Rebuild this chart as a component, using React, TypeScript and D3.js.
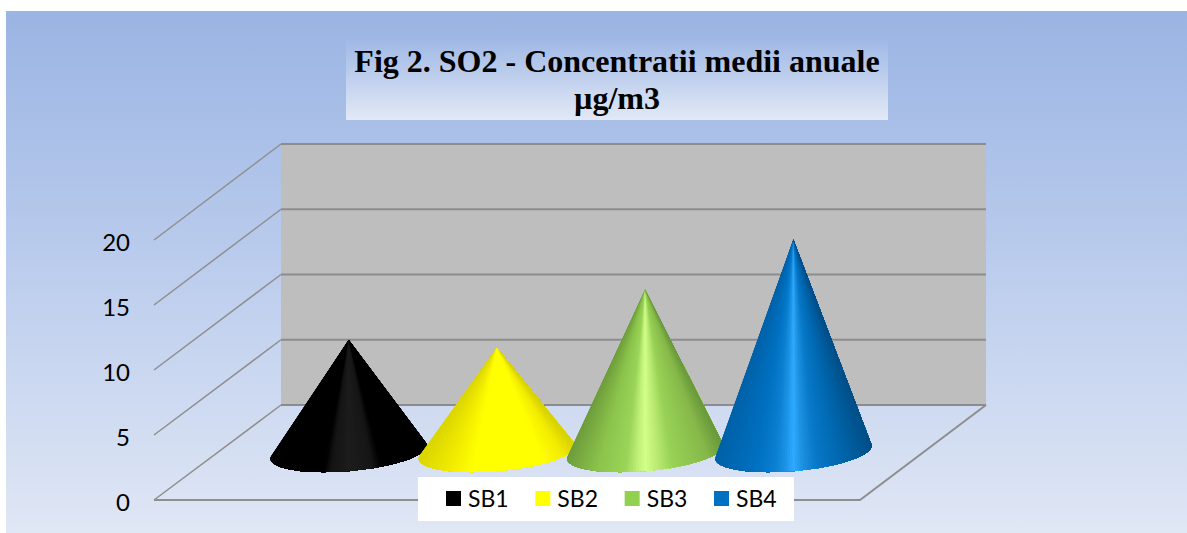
import React from 'react'
import * as d3 from 'd3'

const categories = ['SB1', 'SB2', 'SB3', 'SB4']
const values = [8.6, 8, 12.45, 16.3]
const yTicks = [0, 5, 10, 15, 20]
const legendColors = ['#000000', '#ffff00', '#92d050', '#0070c0']
const titleLines = ['Fig 2. SO2 - Concentratii medii anuale', 'µg/m3']

// shading across each cone, from left rim (-1) to right rim (1)
const shadeStops = [
	[-1, -0.32, -0.22, 0, 0.3, 0.42, 1],
	[-1, -0.6, -0.3, 0, 0.6, 0.85, 1],
	[-1, -0.6, -0.25, -0.1, 0, 0.15, 0.35, 0.8, 1],
	[-1, -0.5, -0.25, -0.1, 0, 0.12, 0.3, 0.6, 1],
]
const shadeColors = [
	['#000000', '#000000', '#141414', '#1c1c1c', '#161616', '#000000', '#000000'],
	['#dcd600', '#f2ec00', '#ffff00', '#ffff00', '#ffff00', '#f2ec00', '#d8d200'],
	['#6f9e3c', '#8cc44c', '#9ad458', '#c0f078', '#d2ff8a', '#bcec74', '#98d256', '#86b84a', '#6a9a3c'],
	['#0062a8', '#0070c0', '#0a7ed0', '#1c94e6', '#2eaaff', '#1c90e0', '#0878c8', '#0068b0', '#004f88'],
]

const width = 1187
const height = 533
const wallLeft = 281
const wallRight = 986
const floorLeft = 154
const floorRight = 860

const yBack = d3.scaleLinear().domain([0, 20]).range([405, 144])
const yFront = d3.scaleLinear().domain([0, 20]).range([500, 240])
const x = d3.scaleBand().domain(categories).range([274.5, 867.5])
const legendX = d3.scalePoint().domain(categories).range([446, 714])

const baseY = 452
const rx = 78.5
const ry = 19
const tilt = (-5 * Math.PI) / 180
const coneTop = d3.scaleLinear().domain([0, 20]).range([baseY, baseY - 261])

const line = d3.line()

const Cone = ({ name, value, i }) => {
	const cx = x(name) + x.bandwidth() / 2
	const apex: [number, number] = [cx, coneTop(value)]
	const rim = d3.range(0, 360, 2).map((deg) => {
		const a = (deg * Math.PI) / 180
		const ex = rx * Math.cos(a)
		const ey = ry * Math.sin(a)
		return [cx + ex * Math.cos(tilt) - ey * Math.sin(tilt), baseY + ex * Math.sin(tilt) + ey * Math.cos(tilt)] as [number, number]
	})
	const hull = d3.polygonHull([apex, ...rim])
	const start = hull.findIndex((p) => p[0] === apex[0] && p[1] === apex[1])
	let outline = [...hull.slice(start + 1), ...hull.slice(0, start)]
	// paint from the left rim to the right so the wedges leave no seams
	if (outline[0][0] > outline[outline.length - 1][0]) outline = outline.reverse()
	const color = d3.scaleLinear<string>().domain(shadeStops[i]).range(shadeColors[i]).clamp(true)
	const pushOut = (p: [number, number]): [number, number] => [apex[0] + (p[0] - apex[0]) * 1.08, apex[1] + (p[1] - apex[1]) * 1.08]

	return (
		<g>
			<clipPath id={`cone-${i}`}>
				<path d={line(hull) + 'Z'} />
			</clipPath>
			<g clipPath={`url(#cone-${i})`}>
				{outline.slice(1).map((p, k) => (
					<path
						key={k}
						d={line([apex, ...outline.slice(k).map(pushOut)]) + 'Z'}
						fill={color(((p[0] + outline[k][0]) / 2 - cx) / rx)}
					/>
				))}
			</g>
		</g>
	)
}

export default function App() {
	return (
		<svg width={width} height={height} style={{ position: 'absolute', left: 0, top: 0, background: '#fff' }}>
			<defs>
				<linearGradient id="frame" x1="0" y1="0" x2="0" y2="1">
					<stop offset="0" stopColor="#9ab4e3" />
					<stop offset="0.5" stopColor="#bccded" />
					<stop offset="1" stopColor="#e0e7f5" />
				</linearGradient>
				<linearGradient id="titleBox" x1="0" y1="0" x2="0" y2="1">
					<stop offset="0" stopColor="#9fb8e5" />
					<stop offset="1" stopColor="#e2e9f6" />
				</linearGradient>
			</defs>

			<rect x={6} y={11} width={width - 6} height={height - 11} fill="url(#frame)" />

			<rect x={wallLeft} y={yBack(20)} width={wallRight - wallLeft} height={yBack(0) - yBack(20)} fill="#bebebe" />

			{yTicks.map((t) => (
				<g key={t}>
					<line x1={wallLeft} x2={wallRight} y1={yBack(t)} y2={yBack(t)} stroke="#8c8c8c" strokeWidth={2} />
					<line x1={floorLeft} x2={wallLeft} y1={yFront(t)} y2={yBack(t)} stroke="#8e8e8e" strokeWidth={1.5} />
					<text x={130} y={yFront(t) + 11} textAnchor="end" fontFamily="Lato" fontSize={24} fill="#000">{t}</text>
				</g>
			))}
			<path d={line([[floorLeft, yFront(0)], [floorRight, yFront(0)], [wallRight, yBack(0)]])} fill="none" stroke="#8e8e8e" strokeWidth={2} />

			{categories.map((c, i) => <Cone key={c} name={c} value={values[i]} i={i} />)}

			<rect x={346} y={39} width={542} height={81} fill="url(#titleBox)" />
			{titleLines.map((t, i) => (
				<text key={t} x={617} y={72 + i * 37} textAnchor="middle" fontFamily="Liberation Serif" fontWeight="bold" fontSize={32} fill="#000">{t}</text>
			))}

			<rect x={418} y={477} width={376} height={44} fill="#fff" />
			{categories.map((c, i) => (
				<g key={c}>
					<rect x={legendX(c)} y={491} width={15} height={15} fill={legendColors[i]} />
					<text x={legendX(c) + 22} y={507} fontFamily="Lato" fontSize={23} fill="#000">{c}</text>
				</g>
			))}
		</svg>
	)
}
